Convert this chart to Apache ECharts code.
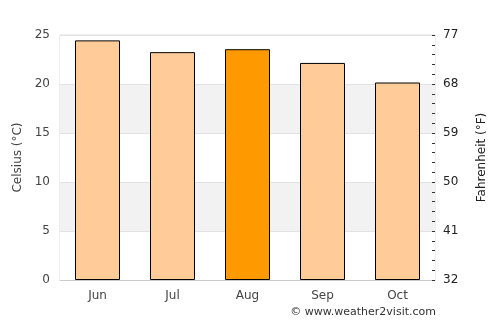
<!DOCTYPE html>
<html>
<head>
<meta charset="utf-8">
<script src="https://cdn.jsdelivr.net/npm/echarts@6/dist/echarts.min.js"></script>
<style>
  html, body { margin: 0; padding: 0; background: #fff; }
  #chart { width: 500px; height: 325px; }
</style>
</head>
<body>
<div id="chart"></div>
<script>
var months = ['Jun', 'Jul', 'Aug', 'Sep', 'Oct'];
var celsius = [24.45, 23.25, 23.55, 22.15, 20.15];
var highlight = 'Aug';
var fahrenheitTicks = [32, 41, 50, 59, 68, 77];

var chart = echarts.init(document.getElementById('chart'));
var font = 'DejaVu Sans';

var option = {
  animation: false,
  textStyle: { fontFamily: font },
  grid: { left: 60, right: 65, top: 35, bottom: 45, show: true, borderColor: '#dddddd', borderWidth: 1 },
  xAxis: {
    type: 'category',
    data: months,
    axisLine: { lineStyle: { color: '#cccccc' } },
    axisTick: { show: false },
    axisLabel: { color: '#444', fontSize: 12, margin: 10 }
  },
  yAxis: [{
    type: 'value',
    min: 0, max: 25, interval: 5,
    name: 'Celsius (°C)',
    nameLocation: 'middle',
    nameGap: 34,
    nameTextStyle: { color: '#444', fontSize: 12 },
    axisLine: { show: false },
    axisTick: { show: false },
    axisLabel: { color: '#444', fontSize: 12, margin: 10 },
    splitLine: { lineStyle: { color: '#e2e2e2' } },
    splitArea: { show: true, areaStyle: { color: ['#ffffff', '#f2f2f2'] } }
  }, {
    type: 'value',
    position: 'right',
    min: fahrenheitTicks[0], max: fahrenheitTicks[fahrenheitTicks.length - 1], interval: 9,
    name: 'Fahrenheit (°F)',
    nameLocation: 'middle',
    nameGap: 41,
    nameRotate: 90,
    nameTextStyle: { color: '#222', fontSize: 12 },
    axisLine: { show: false },
    axisTick: { show: true, inside: true, length: 3, lineStyle: { color: '#333' } },
    minorTick: { show: true, splitNumber: 5, length: 3, lineStyle: { color: '#333' } },
    axisLabel: { color: '#222', fontSize: 12, margin: 8 },
    splitLine: { show: false }
  }],
  graphic: [{
    type: 'text',
    right: 64,
    top: 307,
    style: { text: '© www.weather2visit.com', fill: '#333', font: '11px DejaVu Sans' }
  }],
  series: [{
    type: 'bar',
    barWidth: '60%',
    data: celsius.map(function (v, i) {
      return {
        value: v,
        itemStyle: { color: months[i] === highlight ? '#ff9900' : '#ffcc99' }
      };
    }),
    itemStyle: { borderColor: '#000', borderWidth: 1 }
  }]
};
chart.setOption(option);
</script>
</body>
</html>
